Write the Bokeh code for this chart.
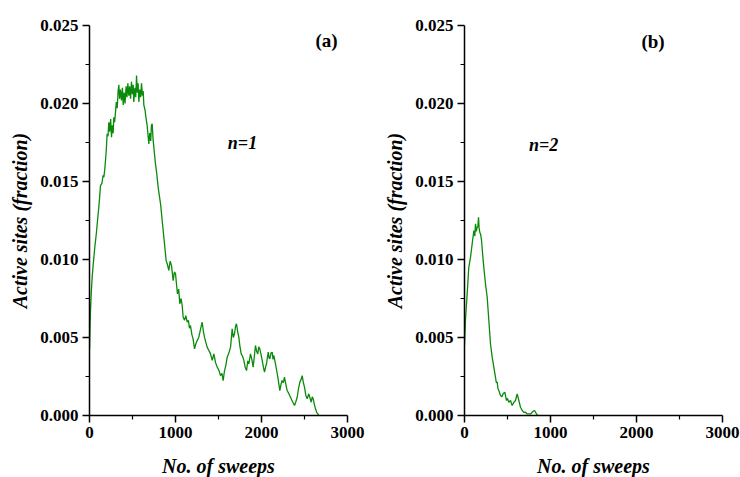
from bokeh.plotting import figure
from bokeh.layouts import row
from bokeh.models import Range1d, FixedTicker, PrintfTickFormatter
from bokeh.core.properties import value
from bokeh.embed import file_html
from bokeh.resources import INLINE

# Panel (a): n=1
sweeps_a = [0, 10, 20, 31, 45, 62, 80, 95, 108, 118, 128, 145, 158, 167, 178, 186, 196, 205,
            215, 225, 235, 246, 256, 266, 275, 283, 292, 300, 312, 322, 333, 341, 350, 360,
            372, 383, 392, 403, 413, 426, 436, 446, 457, 467, 478, 488, 498, 508, 515, 528,
            538, 547, 556, 565, 574, 584, 595, 605, 615, 624, 632, 645, 659, 670, 680, 690,
            700, 712, 720, 729, 738, 748, 767, 780, 798, 812, 826, 840, 853, 865, 876, 891,
            905, 922, 938, 953, 973, 987, 1000, 1012, 1023, 1037, 1050, 1065, 1078, 1089,
            1105, 1120, 1136, 1150, 1162, 1174, 1190, 1205, 1221, 1237, 1252, 1271, 1290,
            1310, 1324, 1337, 1352, 1368, 1385, 1407, 1427, 1446, 1465, 1485, 1505, 1523,
            1540, 1554, 1570, 1585, 1601, 1620, 1640, 1659, 1672, 1686, 1698, 1709, 1722,
            1736, 1750, 1764, 1780, 1795, 1810, 1826, 1840, 1853, 1872, 1888, 1903, 1917,
            1930, 1944, 1957, 1968, 1980, 1995, 2008, 2022, 2035, 2047, 2058, 2078, 2088,
            2097, 2110, 2124, 2134, 2143, 2163, 2176, 2190, 2213, 2227, 2240, 2254, 2267,
            2283, 2298, 2318, 2337, 2360, 2384, 2400, 2415, 2430, 2446, 2460, 2473, 2487,
            2500, 2515, 2531, 2550, 2565, 2578, 2590, 2601, 2615, 2628, 2642, 2655, 2667]
active_a = [0.0042, 0.0065, 0.0078, 0.00887, 0.0098, 0.0108, 0.0117, 0.0126, 0.01335,
            0.0140, 0.01474, 0.0149, 0.0154, 0.01528, 0.0158, 0.01635, 0.0171, 0.01806,
            0.0179, 0.0188, 0.0182, 0.0190, 0.01784, 0.0186, 0.0181, 0.01912, 0.0188,
            0.0193, 0.0201, 0.0197, 0.0208, 0.0212, 0.0203, 0.0209, 0.0202, 0.0210, 0.0199,
            0.0207, 0.0200, 0.0211, 0.0204, 0.0213, 0.0205, 0.0211, 0.0203, 0.0214, 0.0206,
            0.0212, 0.0201, 0.0210, 0.0204, 0.0218, 0.0207, 0.0213, 0.0201, 0.0209, 0.0204,
            0.0213, 0.0205, 0.0208, 0.0199, 0.0196, 0.0190, 0.0186, 0.0180, 0.0174, 0.0181,
            0.0176, 0.0186, 0.0187, 0.0178, 0.0172, 0.01613, 0.0156, 0.01464, 0.0141,
            0.01357, 0.0128, 0.01207, 0.0114, 0.01079, 0.00994, 0.0097, 0.0093, 0.0099,
            0.00962, 0.00865, 0.0092, 0.0091, 0.0084, 0.0078, 0.0081, 0.00716, 0.0075,
            0.00705, 0.0063, 0.0061, 0.0064, 0.00598, 0.0061, 0.0056, 0.00577, 0.0052,
            0.0049, 0.00427, 0.0046, 0.0048, 0.00502, 0.0055, 0.00598, 0.0054, 0.00502,
            0.0047, 0.00438, 0.0042, 0.00395, 0.00353, 0.00395, 0.0034, 0.0031, 0.0029,
            0.00256, 0.0027, 0.00224, 0.00288, 0.0032, 0.00374, 0.0040, 0.00438, 0.00555,
            0.0050, 0.00524, 0.0057, 0.00588, 0.0054, 0.00502, 0.0044, 0.00395, 0.0038,
            0.00353, 0.0031, 0.00288, 0.0035, 0.0033, 0.00395, 0.0036, 0.0031, 0.0038,
            0.00449, 0.0041, 0.00395, 0.0044, 0.00427, 0.0039, 0.00353, 0.0031, 0.00278,
            0.0031, 0.0033, 0.00406, 0.0037, 0.00363, 0.0040, 0.00406, 0.0036, 0.00385,
            0.0033, 0.0029, 0.00246, 0.0016, 0.0020, 0.00224, 0.0021, 0.00246, 0.0020,
            0.0016, 0.0014, 0.00117, 0.0009, 0.00064, 0.0009, 0.00117, 0.0017, 0.00214,
            0.0023, 0.00256, 0.0021, 0.00182, 0.0013, 0.00107, 0.00139, 0.0011, 0.00085,
            0.0012, 0.00107, 0.0007, 0.00043, 0.0002, 0.0001, 0.0]

# Panel (b): n=2
sweeps_b = [0, 12, 31, 50, 70, 89, 109, 120, 128, 138, 147, 155, 163, 170, 178, 188, 198,
            217, 230, 244, 264, 283, 302, 322, 341, 360, 370, 380, 390, 399, 419, 435, 450,
            469, 488, 500, 515, 535, 554, 574, 593, 612, 632, 651, 671, 690, 709, 728, 748,
            770, 787, 800, 814, 837, 853]
active_b = [0.0045, 0.0062, 0.0078, 0.0095, 0.01015, 0.011, 0.01186, 0.0115, 0.01229,
            0.0118, 0.01207, 0.0121, 0.01271, 0.0120, 0.01175, 0.0116, 0.01122, 0.00994,
            0.0092, 0.00844, 0.00758, 0.00609, 0.0046, 0.00374, 0.0031, 0.00246, 0.0021,
            0.00214, 0.0017, 0.0016, 0.00128, 0.0012, 0.00139, 0.0015, 0.00096, 0.0011,
            0.00085, 0.00096, 0.00064, 0.00085, 0.00096, 0.00139, 0.00096, 0.00053,
            0.00032, 0.0002, 0.00021, 0.0001, 0.0001, 0.0001, 0.00021, 0.00028, 0.00032,
            0.0001, 0.0]

x_ticks = [0, 1000, 2000, 3000]
x_minor = [500, 1500, 2500]
y_ticks = [0.0, 0.005, 0.010, 0.015, 0.020, 0.025]
y_minor = [0.0025, 0.0075, 0.0125, 0.0175, 0.0225]

FONT = "Liberation Serif"
GREEN = "#0a8a0a"


def make_panel(xs, ys, tag, tag_pos, nlabel, n_pos, borders):
    bl, br = borders
    p = figure(frame_width=258, frame_height=390, output_backend="svg",
               toolbar_location=None, x_range=Range1d(0, 3000), y_range=Range1d(0, 0.025),
               min_border_left=bl, min_border_right=br, min_border_top=25,
               min_border_bottom=62, background_fill_color="white",
               border_fill_color="white")
    p.outline_line_color = None
    p.xgrid.visible = False
    p.ygrid.visible = False
    p.line(xs, ys, line_color=GREEN, line_width=1.3)

    p.xaxis.ticker = FixedTicker(ticks=x_ticks, minor_ticks=x_minor)
    p.yaxis.ticker = FixedTicker(ticks=y_ticks, minor_ticks=y_minor)
    p.xaxis.formatter = PrintfTickFormatter(format="%d")
    p.yaxis.formatter = PrintfTickFormatter(format="%.3f")
    for ax in (p.xaxis, p.yaxis):
        ax.axis_line_width = 1.5
        ax.axis_line_color = "black"
        ax.major_tick_line_width = 1.5
        ax.minor_tick_line_width = 1.2
        ax.major_tick_out = 7
        ax.major_tick_in = 0
        ax.minor_tick_out = 4
        ax.minor_tick_in = 0
        ax.major_label_text_font = FONT
        ax.major_label_text_font_style = "bold"
        ax.major_label_text_font_size = "17px"
        ax.major_label_text_color = "black"
        ax.axis_label_text_font = FONT
        ax.axis_label_text_font_style = "bold italic"
        ax.axis_label_text_font_size = "20px"
        ax.axis_label_text_color = "black"
    p.xaxis.axis_label = "No. of sweeps"
    p.yaxis.axis_label = "Active sites (fraction)"
    p.xaxis.axis_label_standoff = 14
    p.yaxis.axis_label_standoff = 6
    p.xaxis.major_label_standoff = 4
    p.yaxis.major_label_standoff = 4

    p.text(x=[tag_pos[0]], y=[tag_pos[1]], text=[tag], text_font=value(FONT),
           text_font_style="bold", text_font_size="19px", text_align="center",
           text_baseline="middle", text_color="black")
    p.text(x=[n_pos[0]], y=[n_pos[1]], text=[nlabel], text_font=value(FONT),
           text_font_style="bold italic", text_font_size="18px", text_align="center",
           text_baseline="middle", text_color="black")
    return p


pa = make_panel(sweeps_a, active_a, "(a)", (2756, 0.02404), "n=1", (1779, 0.01744), (89, 23))
pb = make_panel(sweeps_b, active_b, "(b)", (2192, 0.0240), "n=2", (919, 0.01737), (94, 18))

layout = row(pa, pb)
open("out.html", "w").write(file_html(layout, INLINE))
